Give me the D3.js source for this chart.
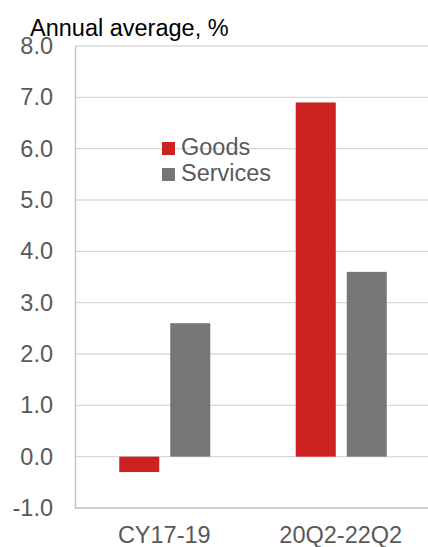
<!DOCTYPE html>
<html>
<head>
<meta charset="utf-8">
<script src="https://cdn.jsdelivr.net/npm/d3@7"></script>
<style>
  body { margin: 0; background: #fff; }
  svg { font-family: "Liberation Sans", Arial, sans-serif; }
</style>
</head>
<body>
<svg width="428" height="547"></svg>
<script>
// data
var categories = ['CY17-19', '20Q2-22Q2'];
var seriesNames = ['Goods', 'Services'];
var goods = [-0.3, 6.9];
var services = [2.6, 3.6];
var yTicks = [-1, 0, 1, 2, 3, 4, 5, 6, 7, 8];
var colors = ['#cc2222', '#767676'];

var svg = d3.select('svg'),
	width = +svg.attr('width'),
	height = +svg.attr('height');

// plot area (note: "top" is a reserved window global, so use other names)
var pLeft = 75, pRight = 428, pTop = 46, pBottom = 508;
var fs = '23.5px';

var x = d3.scaleBand().domain(categories).range([pLeft, pRight]);
var y = d3.scaleLinear().domain([-1, 8]).range([pBottom, pTop]);
var barW = 40;
var x1 = d3.scaleOrdinal().domain(seriesNames).range([-44, 7]);

// gridlines
svg.append('g')
	.selectAll('line')
	.data(yTicks)
	.enter()
	.append('line')
	.attr('x1', pLeft)
	.attr('x2', pRight)
	.attr('y1', function(d) { return y(d); })
	.attr('y2', function(d) { return y(d); })
	.attr('stroke', function(d) { return d === -1 ? '#bfbfbf' : '#d9d9d9'; })
	.attr('stroke-width', 1.3);

// y axis, plain hyphen for negatives like the original
var fmt = d3.format('.1f');
var yAxis = svg.append('g')
	.attr('transform', 'translate(' + pLeft + ',0)')
	.call(d3.axisLeft(y).tickValues(yTicks).tickSize(0).tickPadding(22)
		.tickFormat(function(d) { return fmt(d).replace('\u2212', '-'); }));
yAxis.select('.domain').attr('stroke', '#bfbfbf').attr('stroke-width', 1.3);
yAxis.selectAll('text').attr('font-size', fs).attr('fill', '#595959').attr('font-family', 'Liberation Sans, Arial, sans-serif');

// bars
var rows = categories.map(function(c, i) {
	return [{ cat: c, s: 'Goods', v: goods[i] }, { cat: c, s: 'Services', v: services[i] }];
});
svg.append('g')
	.selectAll('g')
	.data(rows)
	.enter()
	.append('g')
	.selectAll('rect')
	.data(function(d) { return d; })
	.enter()
	.append('rect')
	.attr('x', function(d) { return x(d.cat) + x.bandwidth() / 2 + x1(d.s); })
	.attr('width', barW)
	.attr('y', function(d) { return y(Math.max(0, d.v)); })
	.attr('height', function(d) { return Math.abs(y(d.v) - y(0)); })
	.attr('fill', function(d) { return colors[seriesNames.indexOf(d.s)]; });

// x labels
svg.append('g')
	.selectAll('text')
	.data(categories)
	.enter()
	.append('text')
	.attr('x', function(d) { return x(d) + x.bandwidth() / 2 + 1; })
	.attr('y', 543)
	.attr('text-anchor', 'middle')
	.attr('font-size', fs)
	.attr('fill', '#595959')
	.text(function(d) { return d; });

// legend
var leg = svg.append('g').attr('transform', 'translate(162,142)');
seriesNames.forEach(function(s, i) {
	leg.append('rect')
		.attr('x', 0)
		.attr('y', i * 26)
		.attr('width', 13)
		.attr('height', 13)
		.attr('fill', colors[i]);
	leg.append('text')
		.attr('x', 19)
		.attr('y', i * 26 + 13)
		.attr('font-size', fs)
		.attr('fill', '#595959')
		.text(s);
});

// title
svg.append('text')
	.attr('x', 30)
	.attr('y', 36)
	.attr('font-size', fs)
	.attr('fill', '#000')
	.text('Annual average, %');
</script>
</body>
</html>
